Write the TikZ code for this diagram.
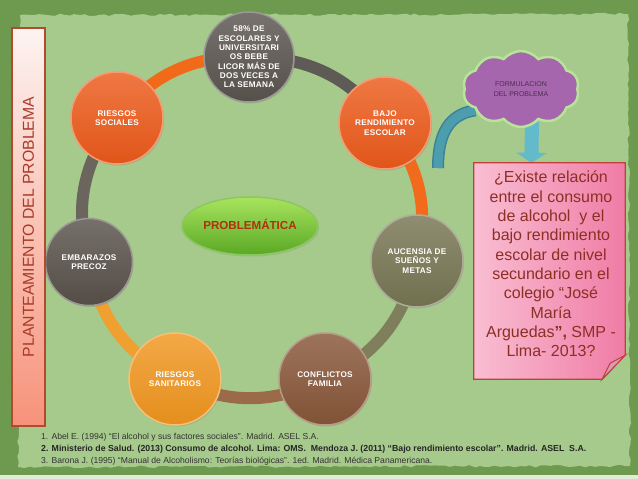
\documentclass[tikz,border=0pt]{standalone}
\usepackage{fontspec}
\setmainfont{Liberation Sans}
\newfontfamily\circfont[LetterSpace=3]{Liberation Sans}
\usetikzlibrary{shapes.geometric,shapes.symbols,shadows,arrows.meta,decorations.pathmorphing,calc}
\definecolor{outerC}{HTML}{6E9A4F}
\definecolor{panelC}{HTML}{A6C98C}
\definecolor{paleC}{HTML}{E2EBDA}
\definecolor{grayC}{HTML}{5A544E}
\definecolor{orangeR}{HTML}{EC5A1A}
\definecolor{oliveC}{HTML}{767552}
\definecolor{brownC}{HTML}{875638}
\definecolor{amberC}{HTML}{F0961E}
\definecolor{darkC}{HTML}{58514A}
\definecolor{arcA}{HTML}{F06A1A}
\definecolor{arcB}{HTML}{5E5A55}
\definecolor{arcC}{HTML}{F26B1C}
\definecolor{arcD}{HTML}{7F7F5C}
\definecolor{arcE}{HTML}{9B6A48}
\definecolor{arcF}{HTML}{F0A030}
\definecolor{arcG}{HTML}{6A655D}
\definecolor{probTop}{HTML}{A8E45E}
\definecolor{probBot}{HTML}{5AA825}
\definecolor{probRim}{HTML}{8CC860}
\definecolor{probText}{HTML}{B0300F}
\definecolor{cloudC}{HTML}{A566AD}
\definecolor{cloudRim}{HTML}{B8E49A}
\definecolor{cloudText}{HTML}{4A3050}
\definecolor{tealDark}{HTML}{3A8394}
\definecolor{tealC}{HTML}{4C9DAD}
\definecolor{arrowC}{HTML}{62BACA}
\definecolor{boxL}{HTML}{F9BED2}
\definecolor{boxR}{HTML}{F07CA6}
\definecolor{boxRim}{HTML}{C0403C}
\definecolor{foldC}{HTML}{D99AB8}
\definecolor{boxText}{HTML}{8C2F25}
\definecolor{barTop}{HTML}{FDF3F1}
\definecolor{barBot}{HTML}{F7927A}
\definecolor{barRim}{HTML}{B24A30}
\definecolor{barText}{HTML}{A83A28}
\definecolor{refC}{HTML}{333333}
\pgfdeclarelayer{bgzero}
\pgfdeclarelayer{bgone}
\pgfsetlayers{bgzero,bgone,main}
\begin{document}
\begin{tikzpicture}[x=1pt,y=-1pt,
  ball/.style={circle, minimum size=92pt, inner sep=0pt, align=center, text=white,
    font=\circfont\bfseries\fontsize{8.2}{9.3}\selectfont, line width=1.5pt,
    drop shadow={opacity=0.3,shadow xshift=1pt,shadow yshift=-1.5pt}},
  balls/.style={ball, top color=#1!82!white, bottom color=#1!95!black, draw=#1!60!white},
  ringarc/.style={line width=12pt, #1},
  reftext/.style={anchor=west, text=refC, font=\fontsize{8.6}{10}\selectfont, inner sep=0pt},
]
\useasboundingbox (0,0) rectangle (638,479);
% background
\begin{pgfonlayer}{bgzero}
\fill[outerC] (0,0) rectangle (638,479);
\fill[panelC, decorate, decoration={random steps,segment length=5pt,amplitude=1.2pt}]
  (20,15) -- (628,14) -- (630,466) -- (18,467) -- cycle;
\fill[paleC] (0,475) rectangle (638,479);
\end{pgfonlayer}

% circles
\node[balls=grayC, minimum size=90pt] (top) at (249,57)
  {58\% DE\\ESCOLARES Y\\UNIVERSITARI\\OS BEBE\\LICOR MÁS DE\\DOS VECES A\\LA SEMANA};
\node[balls=orangeR] (soc) at (117,118) {RIESGOS\\SOCIALES};
\node[balls=orangeR] (bajo) at (385,123) {BAJO\\RENDIMIENTO\\ESCOLAR};
\node[balls=oliveC] (auc) at (417,261) {AUCENSIA DE\\SUEÑOS Y\\METAS};
\node[balls=brownC] (conf) at (325,379) {CONFLICTOS\\FAMILIA};
\node[balls=amberC] (san) at (175,379) {RIESGOS\\SANITARIOS};
\node[balls=darkC, minimum size=87pt] (emb) at (89,262) {EMBARAZOS\\PRECOZ};

% ring arcs
\begin{pgfonlayer}{bgone}
\draw[ringarc=arcA] (soc.center) to[bend left=26] (top.center);
\draw[ringarc=arcB] (top.center) to[bend left=26] (bajo.center);
\draw[ringarc=arcC] (bajo.center) to[bend left=26] (auc.center);
\draw[ringarc=arcD] (auc.center) to[bend left=26] (conf.center);
\draw[ringarc=arcE] (conf.center) to[bend left=26] (san.center);
\draw[ringarc=arcF] (san.center) to[bend left=26] (emb.center);
\draw[ringarc=arcG] (emb.center) to[bend left=26] (soc.center);
\end{pgfonlayer}

% center ellipse
\node[ellipse, minimum width=136pt, minimum height=58pt, inner sep=0pt,
  top color=probTop, bottom color=probBot, draw=probRim, line width=1.5pt,
  text=probText, font=\bfseries\fontsize{11.6}{13}\selectfont,
  drop shadow={opacity=0.25,shadow xshift=1pt,shadow yshift=-1.5pt}] (prob) at (250,226)
  {\raisebox{3pt}{PROBLEMÁTICA}};

% vertical bar
\node[draw=barRim, line width=1.2pt, top color=barTop, bottom color=barBot,
  minimum width=33pt, minimum height=398pt, inner sep=0pt] (bar) at (28.5,227) {};
\node[rotate=90, text=barText, font=\fontsize{15.8}{17}\selectfont] (bartxt) at (bar.center)
  {PLANTEAMIENTO DEL PROBLEMA};

% cloud
\node[cloud, cloud puffs=10, cloud puff arc=100, aspect=1.6, minimum width=116pt, minimum height=76pt,
  inner sep=0pt, fill=cloudC, draw=cloudRim, line width=2.5pt, align=center,
  text=cloudText, font=\fontsize{7}{10.5}\selectfont] (cloud) at (521,89)
  {FORMULACION\\DEL PROBLEMA};

% question box
\node[minimum width=151pt, minimum height=216pt, inner sep=0pt] (box) at (549.5,271) {};
\fill[left color=boxL, right color=boxR, draw=boxRim, line width=1.2pt]
  (box.north west) -- (box.north east) -- ($(box.south east)+(0,-24)$)
  -- ($(box.south east)+(-23,0)$) -- (box.south west) -- cycle;
\filldraw[fill=foldC, draw=boxRim, line width=1pt]
  ($(box.south east)+(0,-24)$) -- ($(box.south east)+(-23,0)$)
  -- ($(box.south east)+(-15,-16)$) -- cycle;
\node[align=center, text=boxText, font=\fontsize{16}{19.3}\selectfont, inner sep=0pt]
  (qtext) at (551,264)
  {¿Existe relación\\entre el consumo\\de alcohol~ y el\\bajo rendimiento\\escolar de nivel\\secundario en el\\colegio “José\\María\\Arguedas\textbf{”,} SMP -\\Lima- 2013?};

% teal curved band and down arrow
\coordinate (tealS) at (438,168);
\coordinate (arrS) at (532,122);
\begin{pgfonlayer}{bgone}
\draw[tealDark, line width=12pt] (tealS) .. controls (438,132) and (450,114) .. (cloud.205);
\draw[tealC, line width=9pt] (tealS) .. controls (438,132) and (450,114) .. (cloud.205);
\draw[arrowC, line width=14pt, -{Triangle[width=30pt,length=10pt]}]
  (arrS) -- ($(box.north west)!0.38!(box.north east)$);
\end{pgfonlayer}

% references
\node[reftext] (r1) at (41,437) {1. Abel E. (1994) “El alcohol y sus factores sociales”. Madrid. ASEL S.A.};
\node[reftext, font=\bfseries\fontsize{8.75}{10}\selectfont, text=black!85] (r2) at (41,449)
  {2. Ministerio de Salud. (2013) Consumo de alcohol. Lima: OMS.~ Mendoza J. (2011) “Bajo rendimiento escolar”. Madrid. ASEL~ S.A.};
\node[reftext] (r3) at (41,461) {3. Barona J. (1995) “Manual de Alcoholismo: Teorías biológicas”. 1ed. Madrid. Médica Panamericana.};
\end{tikzpicture}
\end{document}
